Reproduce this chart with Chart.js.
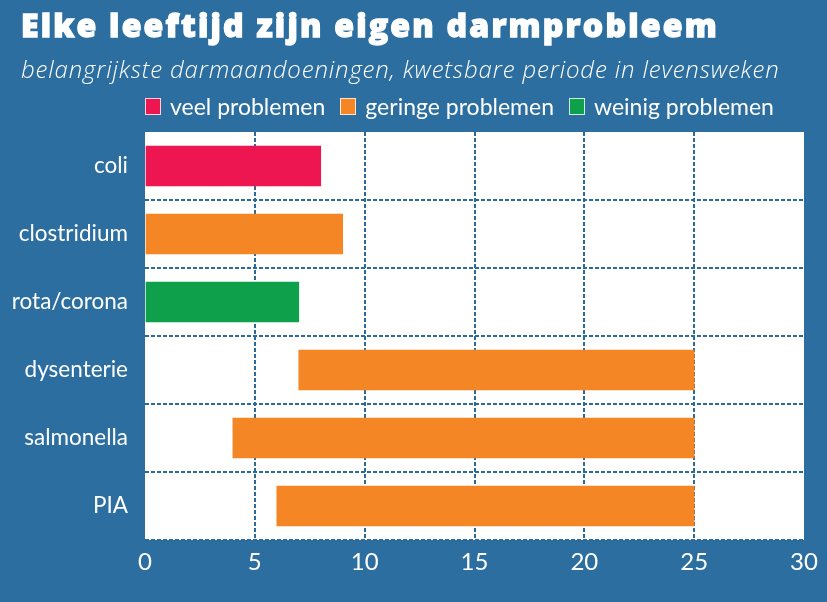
<!DOCTYPE html>
<html>
<head>
<meta charset="utf-8">
<script src="https://cdn.jsdelivr.net/npm/chart.js@4/dist/chart.umd.min.js"></script>
<style>
  html, body { margin: 0; padding: 0; background: #2c6e9f; }
  #wrap { width: 827px; height: 602px; position: relative; overflow: hidden; background: #2c6e9f; }
  #c { position: absolute; left: 0; top: 0; }
  .title { position: absolute; left: 21px; top: 7px; color: #fff; white-space: nowrap;
           font-family: "Open Sans", sans-serif; font-weight: 800; font-size: 32px; line-height: 36px;
           letter-spacing: 2.2px; -webkit-text-stroke: 1.3px #fff; }
  .subtitle { position: absolute; left: 21px; top: 54px; color: #fff; white-space: nowrap;
           font-family: "Open Sans", sans-serif; font-weight: 300; font-style: italic; font-size: 24px; line-height: 30px;
           letter-spacing: 0.85px; }
  #legend { position: absolute; left: 145px; top: 91px; display: flex; align-items: center; height: 30px;
           font-family: Lato, "Open Sans", sans-serif; font-size: 23px; color: #fff; white-space: nowrap; }
  #legend .item { display: flex; align-items: center; margin-right: 15px; }
  #legend .box { width: 16px; height: 17px; box-sizing: border-box; border: 1px solid rgba(255,255,255,0.8); margin-right: 9px; }
</style>
</head>
<body>
<div id="wrap">
  <canvas id="c" width="827" height="602"></canvas>
  <div class="title">Elke leeftijd zijn eigen darmprobleem</div>
  <div class="subtitle">belangrijkste darmaandoeningen, kwetsbare periode in levensweken</div>
  <div id="legend"></div>
</div>
<script>
const categories = ['coli', 'clostridium', 'rota/corona', 'dysenterie', 'salmonella', 'PIA'];
const periodStart = [0, 0, 0, 7, 4, 6];
const periodEnd = [8, 9, 7, 25, 25, 25];
const severity = ['veel', 'geringe', 'weinig', 'geringe', 'geringe', 'geringe'];
const groupKeys = ['veel', 'geringe', 'weinig'];
const groupLabels = ['veel problemen', 'geringe problemen', 'weinig problemen'];
const groupColors = ['#ed1651', '#f48625', '#0fa04b'];
const xTicks = [0, 5, 10, 15, 20, 25, 30];

const BG = '#2c6e9f';
const GRID = '#2c6a98';
const FONT = 'Lato, "Open Sans", sans-serif';

// HTML legend built from the group arrays
const legendEl = document.getElementById('legend');
groupLabels.forEach((lab, g) => {
  const item = document.createElement('div');
  item.className = 'item';
  const box = document.createElement('span');
  box.className = 'box';
  box.style.background = groupColors[g];
  const txt = document.createElement('span');
  txt.textContent = lab;
  item.appendChild(box);
  item.appendChild(txt);
  legendEl.appendChild(item);
});

const datasets = groupKeys.map((k, g) => ({
  label: groupLabels[g],
  data: categories.map((c, i) => severity[i] === k ? [periodStart[i], periodEnd[i]] : null),
  backgroundColor: groupColors[g],
  borderWidth: 0,
  barThickness: 40,
  grouped: false
}));

const bgPlugin = {
  id: 'bg',
  beforeDraw(chart) {
    const { ctx, chartArea: a } = chart;
    ctx.save();
    ctx.fillStyle = BG;
    ctx.fillRect(0, 0, chart.width, chart.height);
    ctx.fillStyle = '#ffffff';
    ctx.fillRect(a.left, a.top, a.right - a.left, a.bottom - a.top);
    ctx.restore();
  }
};

function draw() {
  new Chart(document.getElementById('c'), {
    type: 'bar',
    data: { labels: categories, datasets },
    plugins: [bgPlugin],
    options: {
      indexAxis: 'y',
      responsive: false,
      animation: false,
      layout: { padding: { left: 0, right: 23, top: 132, bottom: 26 } },
      plugins: {
        title: { display: false },
        subtitle: { display: false },
        legend: { display: false },
        tooltip: { enabled: false }
      },
      scales: {
        x: {
          type: 'linear',
          min: 0,
          max: 30,
          afterBuildTicks(axis) { axis.ticks = xTicks.map(v => ({ value: v })); },
          afterFit(axis) { axis.height = 36; },
          grid: {
            color: ctx => (ctx.tick && (ctx.tick.value === 0 || ctx.tick.value === 30)) ? 'rgba(0,0,0,0)' : GRID,
            lineWidth: 2,
            drawTicks: false
          },
          border: { display: false, dash: [4, 2] },
          ticks: {
            color: '#ffffff',
            font: { family: FONT, size: 24 },
            padding: 8
          }
        },
        y: {
          type: 'category',
          offset: true,
          afterFit(axis) { axis.width = 145; },
          grid: {
            offset: true,
            color: ctx => (ctx.index === 0) ? 'rgba(0,0,0,0)' : GRID,
            lineWidth: 2,
            drawTicks: false
          },
          border: { display: false, dash: [4, 2] },
          ticks: {
            color: '#ffffff',
            font: { family: FONT, size: 22.5 },
            padding: 17
          }
        }
      }
    }
  });
}

const fontLoads = [
  document.fonts.load('22px Lato'),
  document.fonts.load('24px Lato'),
  document.fonts.load('800 32px "Open Sans"'),
  document.fonts.load('italic 300 24px "Open Sans"')
];
Promise.all(fontLoads).then(draw, draw);
</script>
</body>
</html>
